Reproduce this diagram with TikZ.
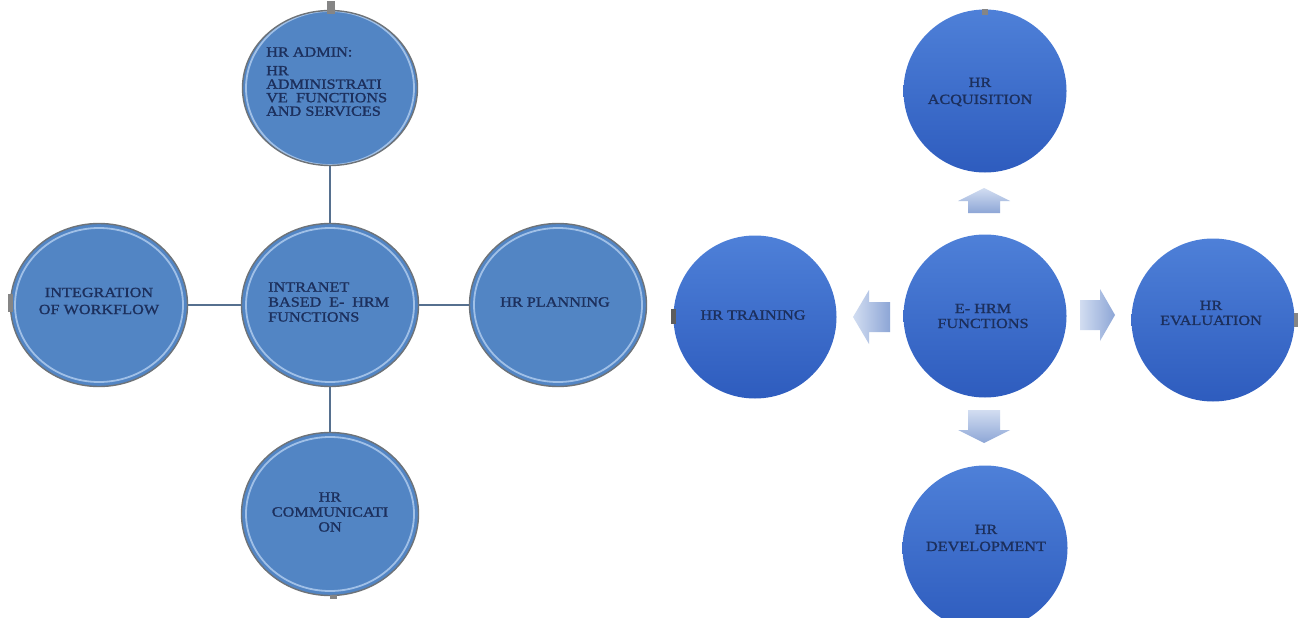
\documentclass[tikz,border=0pt]{standalone}
\usepackage{fontspec}
\setmainfont[FakeStretch=1.16,FakeBold=1.2]{Liberation Serif}
\usetikzlibrary{shapes.geometric}
\definecolor{lblue}{HTML}{5285C4}
\definecolor{lrim}{HTML}{6E7378}
\definecolor{lhi}{HTML}{B4CFF0}
\definecolor{navy}{HTML}{1C2F5C}
\definecolor{rtop}{HTML}{4E80D8}
\definecolor{rbot}{HTML}{2E5CBE}
\definecolor{arrA}{HTML}{D2DDF1}
\definecolor{arrB}{HTML}{8DA6D6}
\definecolor{tabc}{HTML}{858585}
\definecolor{conn}{HTML}{56708F}
\begin{document}
\begin{tikzpicture}[x=1pt,y=-1pt,
  lcirc/.style={ellipse, draw=lrim, line width=1.4pt, fill=lblue, inner sep=0pt,
    minimum width=177pt, minimum height=163pt,
    path picture={\draw[lhi, line width=1.8pt, opacity=0.8]
      (path picture bounding box.center) ellipse [x radius=84, y radius=77];}},
  rcirc/.style={circle, top color=rtop, bottom color=rbot, draw=none, inner sep=0pt,
    minimum size=163pt},
  txt/.style={font=\fontsize{14}{15}\selectfont, text=navy, inner sep=0pt, align=center},
  link/.style={draw=conn, line width=2pt},
  tabbox/.style={fill=tabc, draw=none, inner sep=0pt, rectangle},
]
\useasboundingbox (0,0) rectangle (1298,618);
\clip (0,0) rectangle (1298,618);
\fill[white] (0,0) rectangle (1298,618);

% ---------- left diagram ----------
\node[lcirc, minimum width=175pt, minimum height=155pt] (admin) at (330,88) {};
\node[lcirc] (center) at (330,305) {};
\node[lcirc] (integ) at (99,305) {};
\node[lcirc] (plan) at (558,305) {};
\node[lcirc] (comm) at (330,514) {};

\draw[link] (admin.south) -- (center.north);
\draw[link] (center.south) -- (comm.north);
\draw[link] (integ.east) -- (center.west);
\draw[link] (center.east) -- (plan.west);

\node[txt, anchor=west] (tadmin1) at (266,52) {HR ADMIN:};
\node[txt, anchor=west, align=left, font=\fontsize{14}{13.5}\selectfont] (tadmin2) at (266,91)
  {HR\\ADMINISTRATI\\\makebox[121pt][s]{VE FUNCTIONS}\\AND SERVICES};
\node[txt, anchor=west, align=left] (tcenter) at (268,302)
  {INTRANET\\\makebox[121pt][s]{BASED E- HRM}\\FUNCTIONS};
\node[txt, font=\fontsize{14}{17}\selectfont] (tinteg) at (99,301) {INTEGRATION\\OF WORKFLOW};
\node[txt] (tplan) at (555,302) {HR PLANNING};
\node[txt] (tcomm) at (330,512) {HR\\COMMUNICATI\\ON};

\node[tabbox, minimum width=8pt, minimum height=13pt] (tab1) at (331,8) {};
\node[tabbox, minimum width=5pt, minimum height=18pt] (tab2) at (10,303) {};
\node[tabbox, minimum width=7pt, minimum height=4pt] (tab3) at (333,597) {};

% ---------- right diagram ----------
\node[rcirc] (acq) at (985,91) {};
\node[rcirc] (train) at (755,317) {};
\node[rcirc] (ehrm) at (985,316) {};
\node[rcirc] (eval) at (1213,320) {};
\node[rcirc, minimum size=165pt] (dev) at (985,548) {};

\node[txt, font=\fontsize{14}{17}\selectfont] (tacq) at (980,92) {HR\\ACQUISITION};
\node[txt] (ttrain) at (753,315) {HR TRAINING};
\node[txt] (tehrm) at (983,316) {E- HRM\\FUNCTIONS};
\node[txt] (teval) at (1211,313) {HR\\EVALUATION};
\node[txt, font=\fontsize{14}{17}\selectfont] (tdev) at (986,538) {HR\\DEVELOPMENT};

\node[tabbox, minimum width=6pt, minimum height=6pt] (tab4) at (985,12) {};
\node[tabbox, minimum width=5pt, minimum height=15pt, fill=tabc!70!black] (tab5) at (673,316) {};
\node[tabbox, minimum width=5pt, minimum height=14pt] (tab6) at (1296,320) {};

% block arrows
\path[top color=arrA, bottom color=arrB]
  (984,188) -- (1010,201) -- (1000,201) -- (1000,213) -- (968,213) -- (968,201) -- (958,201) -- cycle;
\path[top color=arrA, bottom color=arrB]
  (958,430) -- (968,430) -- (968,410) -- (1000,410) -- (1000,430) -- (1010,430) -- (984,443) -- cycle;
\path[left color=arrA, right color=arrB]
  (853,317) -- (869,290) -- (869,302) -- (890,302) -- (890,332) -- (869,332) -- (869,344) -- cycle;
\path[left color=arrA, right color=arrB]
  (1080,300) -- (1100,300) -- (1100,289) -- (1115,315) -- (1100,341) -- (1100,330) -- (1080,330) -- cycle;
\end{tikzpicture}
\end{document}
